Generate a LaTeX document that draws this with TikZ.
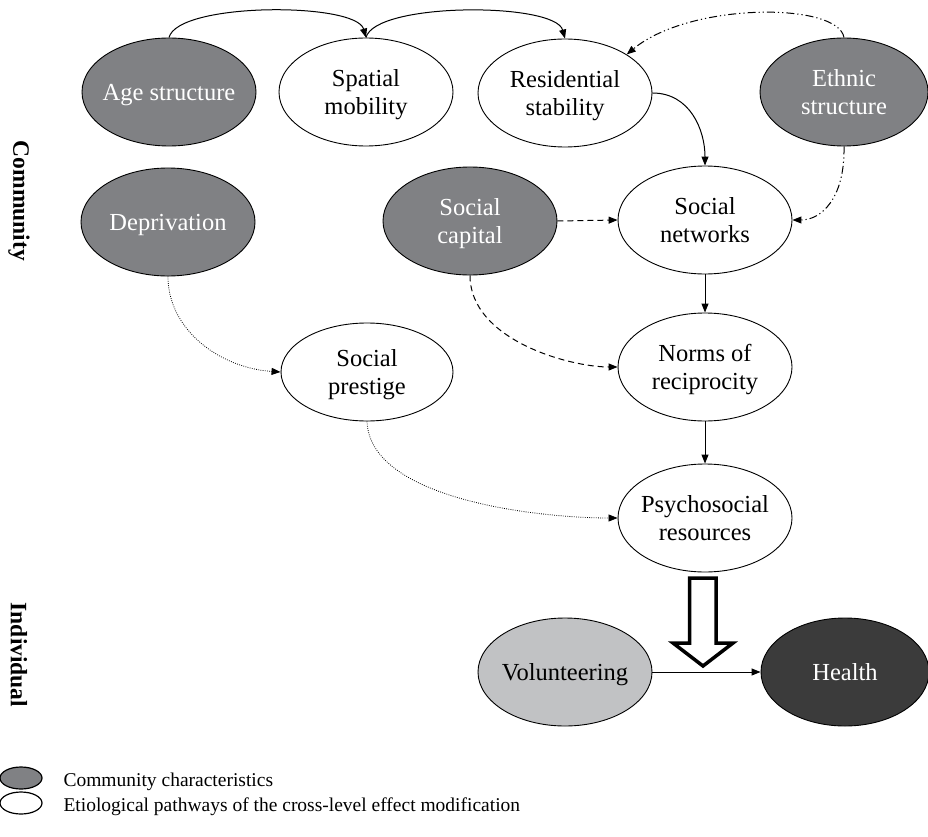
\documentclass[tikz,border=0pt]{standalone}
\usepackage{fontspec}
\setmainfont{Liberation Serif}
\usetikzlibrary{shapes.geometric,arrows.meta}
\definecolor{cgray}{RGB}{128,129,132}
\definecolor{lgray}{RGB}{193,194,196}
\definecolor{dgray}{RGB}{59,59,59}
\newcommand{\mainfs}{\fontsize{24.5}{28}\selectfont}
\newcommand{\legfs}{\fontsize{19.5}{24}\selectfont}
\tikzset{
  ell/.style={ellipse, draw, line width=0.9pt, minimum width=174pt, minimum height=108pt,
    inner sep=-12pt, align=center, font=\mainfs, text depth=0pt},
  comm/.style={ell, fill=cgray, text=white},
  wnode/.style={ell, fill=white},
  conn/.style={line width=1pt, -{Triangle[length=9pt,width=7pt]}},
  dashdotdot/.style={dash pattern=on 8pt off 3pt on 1.2pt off 3pt on 1.2pt off 3pt},
  dashline/.style={dash pattern=on 6pt off 4pt},
  dotline/.style={line width=0.8pt, dash pattern=on 0.8pt off 1.4pt},
  lgell/.style={ellipse, draw, line width=1.2pt, minimum width=42pt, minimum height=22pt, inner sep=0pt},
  sidelabel/.style={rotate=-90, font=\fontsize{23.5}{28}\selectfont\bfseries},
}
\begin{document}
\begin{tikzpicture}[x=1pt,y=-1pt]
\useasboundingbox (0,0) rectangle (928,837);

% nodes
\node[comm] (age) at (169,92) {Age structure};
\node[wnode] (spat) at (366,92) {Spatial\\mobility};
\node[wnode] (res) at (565,93) {Residential\\stability};
\node[comm, minimum width=168pt] (eth) at (844,92) {Ethnic\\structure};
\node[comm] (dep) at (168,222) {Deprivation};
\node[comm] (cap) at (470,221) {Social\\capital};
\node[wnode] (net) at (705,220) {Social\\networks};
\node[wnode, minimum width=172pt, minimum height=98pt] (prest) at (367,372) {Social\\prestige};
\node[wnode] (norms) at (705,367) {Norms of\\reciprocity};
\node[wnode] (psy) at (705,518) {Psychosocial\\resources};
\node[ell, fill=lgray] (vol) at (565,672) {Volunteering};
\node[ell, fill=dgray, text=white, minimum width=168pt] (hlth) at (845,672) {Health};

% side labels
\node[sidelabel] (lcom) at (19,201) {Community};
\node[sidelabel] (lind) at (19,655) {Individual};

% connectors
\draw[conn] (age.north) .. controls (178,2) and (356,2) .. (spat.north);
\draw[conn] (spat.north) .. controls (375,2) and (555,2) .. (res.north);
\draw[conn, dashdotdot] (eth.north) .. controls (838,2) and (690,2) .. (res.32);
\draw[conn] (res.east) .. controls (690,93) and (705,130) .. (net.north);
\draw[conn, dashdotdot] (eth.south) .. controls (845,200) and (820,220) .. (net.east);
\draw[conn, dashline] (cap.east) -- (net.west);
\draw[conn] (net.south) -- (norms.north);
\draw[conn, dashline] (cap.south) .. controls (470,340) and (570,367) .. (norms.west);
\draw[conn, dotline] (dep.south) .. controls (168,330) and (220,368) .. (prest.west);
\draw[conn, dotline] (prest.south) .. controls (370,500) and (540,518) .. (psy.west);
\draw[conn] (norms.south) -- (psy.north);
\draw[conn] (vol.east) -- (hlth.west);

% block arrow
\draw[line width=3.5pt, fill=white, line join=miter]
  (689.5,578) -- (716,578) -- (716,643) -- (733,643) -- (703,666) -- (673,643) -- (689.5,643) -- cycle;

% legend
\node[lgell, fill=cgray] (l1) at (21,778) {};
\node[lgell, fill=white] (l2) at (21,803) {};
\node[anchor=base west, font=\legfs] (t1) at (60,786) {Community characteristics};
\node[anchor=base west, font=\legfs] (t2) at (60,811) {Etiological pathways of the cross-level effect modification};
\end{tikzpicture}
\end{document}
